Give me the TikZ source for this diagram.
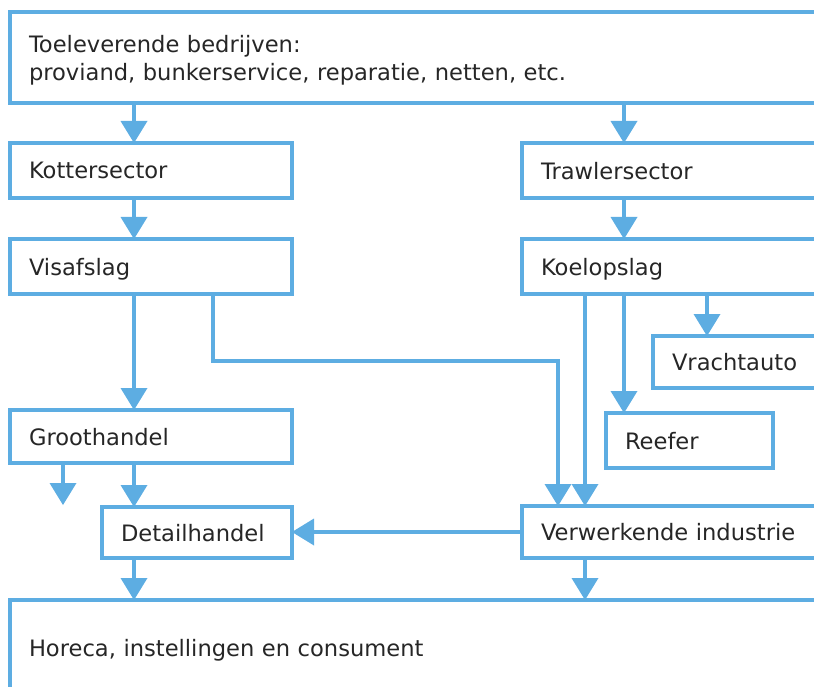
\documentclass[tikz,border=0pt]{standalone}
\usepackage{fontspec}
\setmainfont{DejaVu Sans}
\usepackage{tikz}
\usetikzlibrary{arrows.meta}
\definecolor{flowblue}{RGB}{93,173,226}

\begin{document}
\begin{tikzpicture}[
        x=1pt, y=-1pt,
        box/.style={draw=flowblue, line width=3.4pt, anchor=north west, outer sep=0pt,
            inner xsep=19pt, inner ysep=0pt, align=left, text=black!85,
            font=\fontsize{22.6}{28}\selectfont, text depth=0pt},
        flow/.style={draw=flowblue, line width=3.4pt,
            -{Triangle[width=27pt, length=22pt, line width=0pt]}}
    ]
        \useasboundingbox (0, 0) rectangle (814, 687);
        \clip (0, 0) rectangle (814, 687);

        \coordinate (lx) at (134, 0);
        \coordinate (rx) at (624, 0);
        \coordinate (kx) at (585, 0);
        \coordinate (vx) at (707, 0);
        \coordinate (ix) at (558, 0);
        \coordinate (bend) at (213, 361);
        \coordinate (out) at (63, 505);

        \node[box, text width=794pt, minimum height=91pt, text depth=28pt] (supply) at (10, 12)
            {Toeleverende bedrijven:\\proviand, bunkerservice, reparatie, netten, etc.};
        \node[box, text width=244pt, minimum height=55pt] (kotter) at (10, 143) {Kottersector};
        \node[box, text width=282pt, minimum height=55pt] (trawler) at (522, 143) {Trawlersector};
        \node[box, text width=244pt, minimum height=55pt] (visafslag) at (10, 239) {Visafslag};
        \node[box, text width=282pt, minimum height=55pt] (koel) at (522, 239) {Koelopslag};
        \node[box, text width=151pt, minimum height=52pt] (vracht) at (653, 336) {Vrachtauto};
        \node[box, text width=129pt, minimum height=55pt] (reefer) at (606, 413) {Reefer};
        \node[box, text width=244pt, minimum height=53pt] (groot) at (10, 410) {Groothandel};
        \node[box, text width=152pt, minimum height=51pt] (detail) at (102, 507) {Detailhandel};
        \node[box, text width=282pt, minimum height=52pt] (verwerk) at (522, 506) {Verwerkende industrie};
        \node[box, text width=794pt, minimum height=96pt] (horeca) at (10, 600)
            {Horeca, instellingen en consument};

        \draw[flow] (supply.south -| lx) -- (kotter.north -| lx);
        \draw[flow] (supply.south -| rx) -- (trawler.north -| rx);
        \draw[flow] (kotter.south -| lx) -- (visafslag.north -| lx);
        \draw[flow] (trawler.south -| rx) -- (koel.north -| rx);

        \draw[flow] (visafslag.south -| lx) -- (groot.north -| lx);
        \draw[flow] (visafslag.south -| bend) -- (bend) -| (verwerk.north -| ix);
        \draw[flow] (koel.south -| kx) -- (verwerk.north -| kx);
        \draw[flow] (koel.south -| rx) -- (reefer.north -| rx);
        \draw[flow] (koel.south -| vx) -- (vracht.north -| vx);

        \draw[flow] (groot.south -| out) -- (out);
        \draw[flow] (groot.south -| lx) -- (detail.north -| lx);
        \draw[flow] (verwerk.west) -- (verwerk.west -| detail.east);

        \draw[flow] (detail.south -| lx) -- (horeca.north -| lx);
        \draw[flow] (verwerk.south -| kx) -- (horeca.north -| kx);
    \end{tikzpicture}
\end{document}
